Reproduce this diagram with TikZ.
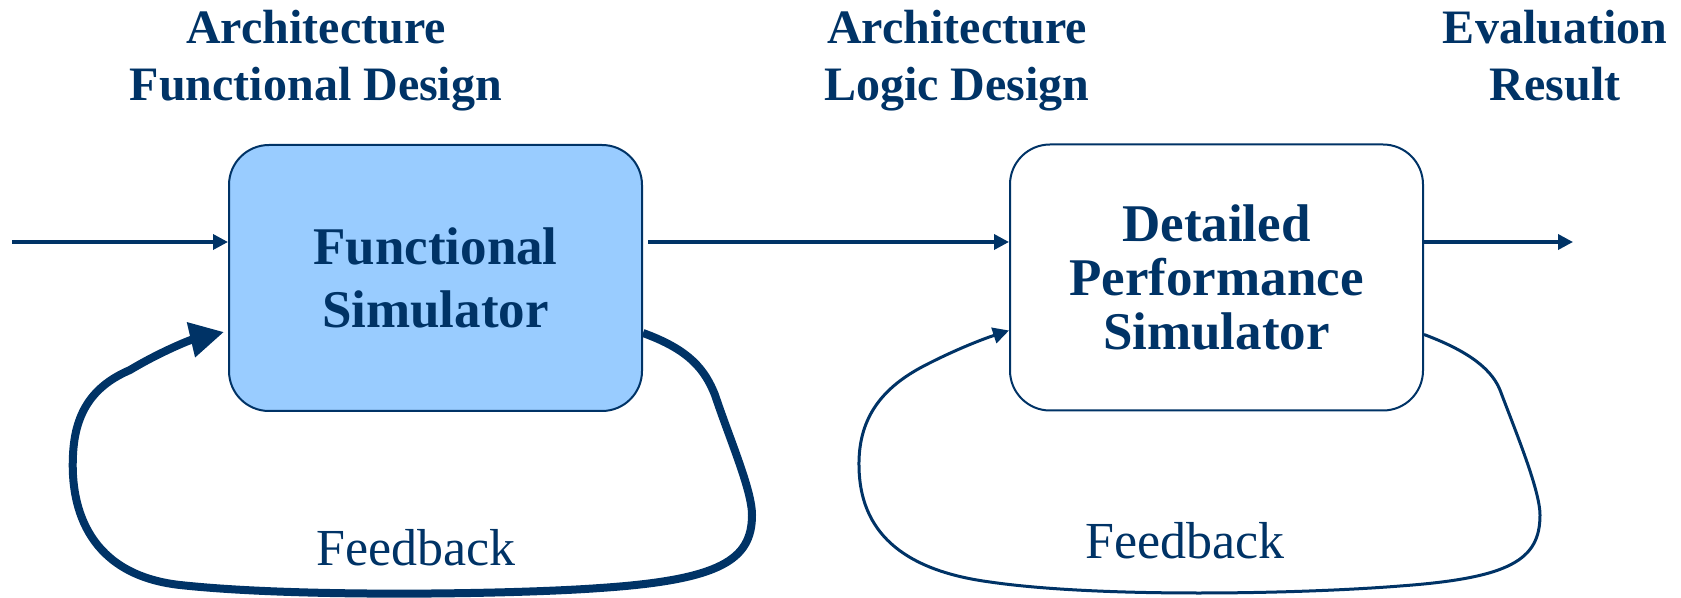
\documentclass[tikz,border=0pt]{standalone}
\usepackage{fontspec}
\setmainfont{Liberation Serif}
\usetikzlibrary{arrows.meta,calc}
\definecolor{navy}{HTML}{003366}
\definecolor{simfill}{HTML}{99CCFF}
\begin{document}
\begin{tikzpicture}[x=0.5pt,y=-0.5pt,
  simbox/.style={draw=navy, line width=1pt, rounded corners=20pt,
    minimum width=206.5pt, minimum height=133pt, align=center,
    text=navy, inner sep=0pt},
  heading/.style={align=center, text=navy, anchor=base, inner sep=0pt,
    font=\bfseries\fontsize{24}{28.5}\selectfont},
  flow/.style={draw=navy, line width=1.75pt,
    -{Triangle[length=7.5pt,width=7.5pt]}},
  fbtext/.style={text=navy, anchor=base, inner sep=0pt,
    font=\fontsize{26}{31}\selectfont},
  loopthick/.style={draw=navy, line width=4pt, line join=round,
    -{Triangle[length=17pt,width=17pt]}},
  loopthin/.style={draw=navy, line width=1.5pt, line join=round,
    -{Triangle[length=8pt,width=8pt]}}
]
\useasboundingbox (0,0) rectangle (1681,598);

% headings (anchored on the baseline of their last line)
\node[heading] (h1) at (316,101) {Architecture\\Functional Design};
\node[heading] (h2) at (957,101) {Architecture\\Logic Design};
\node[heading] (h3) at (1555,101) {Evaluation\\Result};

% simulators
\node[simbox, fill=simfill, font=\bfseries\fontsize{26.5}{31.5}\selectfont]
  (b1) at (435.5,278) {Functional\\Simulator};
\node[simbox, fill=white, font=\bfseries\fontsize{26.5}{27}\selectfont]
  (b2) at (1216.5,277.5) {Detailed\\Performance\\Simulator};

% main flow
\coordinate (in) at (12,242);
\coordinate (out) at (1573,242);
\draw[flow] (in) -- (in -| b1.west);
\draw[flow, shorten <=2.5pt] (b1.east |- in) -- (b2.west |- in);
\draw[flow] (b2.east |- in) -- (out);

% feedback loops
\coordinate (l1s) at ($(b1.east)+(0,55)$);
\coordinate (l1e) at ($(b1.west)+(-4,54)$);
\draw[loopthick] (l1s)
  .. controls (690,350) and (705,370) .. (715,395)
  .. controls (730,440) and (752,490) .. (752,515)
  .. controls (752,560) and (720,580) .. (600,588)
  .. controls (520,594) and (300,598) .. (180,585)
  .. controls (90,575) and (70,510) .. (73,455)
  .. controls (75,410) and (95,385) .. (130,370)
  .. controls (160,352) and (190,340) .. (l1e);

\coordinate (l2s) at ($(b2.east)+(0,57)$);
\coordinate (l2e) at ($(b2.west)+(0,53)$);
\draw[loopthin] (l2s)
  .. controls (1460,348) and (1490,365) .. (1500,390)
  .. controls (1515,430) and (1540,490) .. (1540,515)
  .. controls (1540,560) and (1510,578) .. (1400,586)
  .. controls (1300,594) and (1100,598) .. (990,582)
  .. controls (900,570) and (860,530) .. (859,467)
  .. controls (858,420) and (880,390) .. (920,368)
  .. controls (950,352) and (980,340) .. (l2e);

\node[fbtext] (f1) at (416,565) {Feedback};
\node[fbtext] (f2) at (1185,558) {Feedback};
\end{tikzpicture}
\end{document}
